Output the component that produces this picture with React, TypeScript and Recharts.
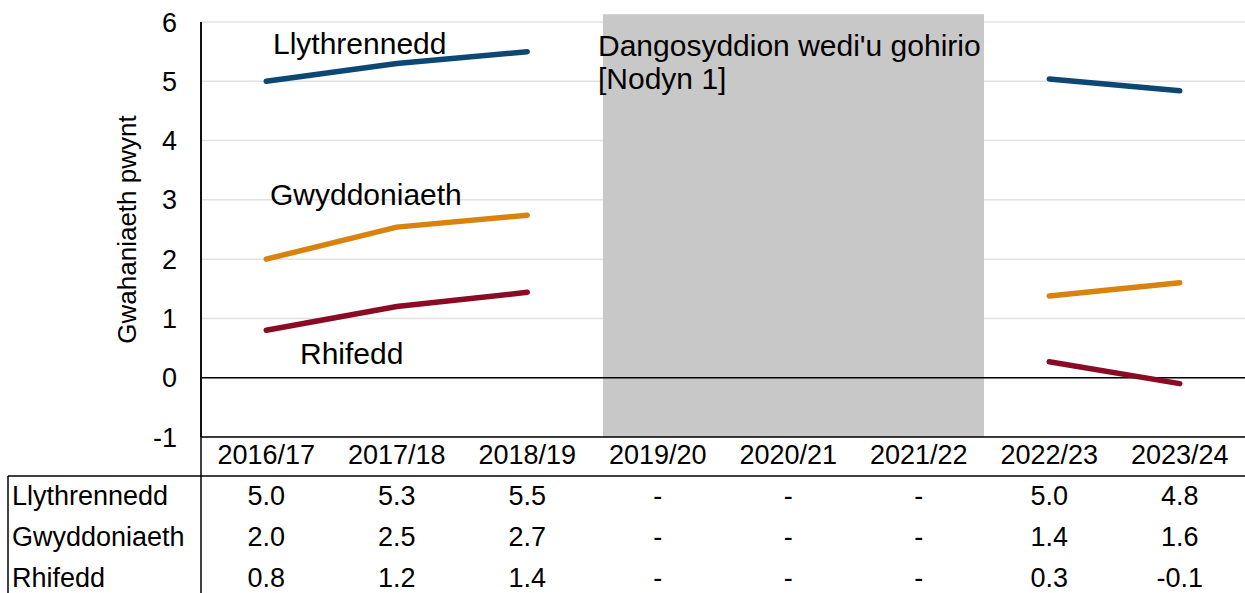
import {
  CartesianGrid,
  ComposedChart,
  Line,
  ReferenceArea,
  ReferenceLine,
  XAxis,
  YAxis,
} from "recharts";

const years = [
  "2016/17",
  "2017/18",
  "2018/19",
  "2019/20",
  "2020/21",
  "2021/22",
  "2022/23",
  "2023/24",
];

const llythrennedd = [5.0, 5.3, 5.5, null, null, null, 5.04, 4.84];
const gwyddoniaeth = [2.0, 2.54, 2.74, null, null, null, 1.38, 1.6];
const rhifedd = [0.8, 1.2, 1.44, null, null, null, 0.27, -0.1];

const yTicks = [-1, 0, 1, 2, 3, 4, 5, 6];

const series = [
  { key: "llythrennedd", name: "Llythrennedd", values: llythrennedd, color: "#0d4874" },
  { key: "gwyddoniaeth", name: "Gwyddoniaeth", values: gwyddoniaeth, color: "#d9830f" },
  { key: "rhifedd", name: "Rhifedd", values: rhifedd, color: "#8b0b24" },
];

const data = years.map((year, i) => ({
  year,
  idx: i,
  llythrennedd: llythrennedd[i],
  gwyddoniaeth: gwyddoniaeth[i],
  rhifedd: rhifedd[i],
}));

const W = 1245;
const H = 593;
const plotLeft = 201;
const plotTop = 22;
const plotBottom = 437;
const font = "'Liberation Sans', Arial, sans-serif";
const colW = (W - plotLeft) / years.length;

const fmt = (v: number | null) => (v === null ? "-" : v.toFixed(1));

export default function App() {
  return (
    <div style={{ position: "relative", width: W, height: H, fontFamily: font }}>
      <style>{`body{margin:0}`}</style>
      <ComposedChart
        width={W}
        height={476}
        data={data}
        margin={{ top: plotTop, right: 0, bottom: 0, left: 0 }}
      >
        <CartesianGrid vertical={false} stroke="#e2e2e2" strokeWidth={1.5} />
        <XAxis
          dataKey="year"
          height={476 - plotBottom}
          padding={{ left: colW / 2, right: colW / 2 }}
          tickLine={false}
          tickSize={0}
          tickMargin={8}
          axisLine={{ stroke: "#000", strokeWidth: 1.5 }}
          tick={{ fill: "#000", fontSize: 27, fontFamily: font }}
          interval={0}
        />
        <XAxis
          xAxisId="n"
          dataKey="idx"
          type="number"
          domain={[0, years.length - 1]}
          padding={{ left: colW / 2, right: colW / 2 }}
          allowDataOverflow
          hide
        />
        <YAxis
          width={plotLeft}
          domain={[-1, 6]}
          ticks={yTicks}
          tickLine={false}
          tickSize={0}
          tickMargin={24}
          axisLine={{ stroke: "#000", strokeWidth: 1.5 }}
          tick={{ fill: "#000", fontSize: 27, fontFamily: font }}
          label={{
            value: "Gwahaniaeth pwynt",
            angle: -90,
            position: "insideLeft",
            dx: 122,
            fill: "#000",
            fontSize: 26,
            fontFamily: font,
            style: { textAnchor: "middle" },
          }}
        />
        <ReferenceLine y={0} stroke="#000" strokeWidth={1.5} />
        <ReferenceArea
          xAxisId="n"
          x1={2.58}
          x2={5.5}
          y1={-1}
          y2={6.13}
          fill="#c8c8c8"
          fillOpacity={1}
          stroke="none"
          ifOverflow="visible"
        />
        {series.map((s) => (
          <Line
            key={s.key}
            dataKey={s.key}
            name={s.name}
            stroke={s.color}
            strokeWidth={5.5}
            strokeLinecap="round"
            dot={false}
            activeDot={false}
            connectNulls={false}
            isAnimationActive={false}
          />
        ))}
      </ComposedChart>

      <svg
        width={W}
        height={H}
        style={{ position: "absolute", left: 0, top: 0, pointerEvents: "none" }}
        fontFamily={font}
      >
        {/* annotations */}
        <text x={273} y={54} fontSize={30} fill="#000">Llythrennedd</text>
        <text x={270} y={205} fontSize={30} fill="#000">Gwyddoniaeth</text>
        <text x={300} y={364} fontSize={30} fill="#000">Rhifedd</text>
        <text x={598} y={56} fontSize={30} fill="#000">Dangosyddion wedi'u gohirio</text>
        <text x={598} y={89} fontSize={30} fill="#000">[Nodyn 1]</text>

        {/* table */}
        <line x1={plotLeft} y1={plotTop} x2={plotLeft} y2={H} stroke="#000" strokeWidth={1.5} />
        <line x1={8} y1={476} x2={W} y2={476} stroke="#000" strokeWidth={1.5} />
        <line x1={8} y1={476} x2={8} y2={H} stroke="#000" strokeWidth={1.5} />
        {series.map((s, r) => {
          const cy = 505 + r * 41;
          return (
            <g key={s.key}>
              <text x={12} y={cy} fontSize={27} fill="#000">{s.name}</text>
              {s.values.map((v, i) => (
                <text
                  key={i}
                  x={plotLeft + (i + 0.5) * colW}
                  y={cy}
                  fontSize={27}
                  fill="#000"
                  textAnchor="middle"
                >
                  {fmt(v)}
                </text>
              ))}
            </g>
          );
        })}
      </svg>
    </div>
  );
}
